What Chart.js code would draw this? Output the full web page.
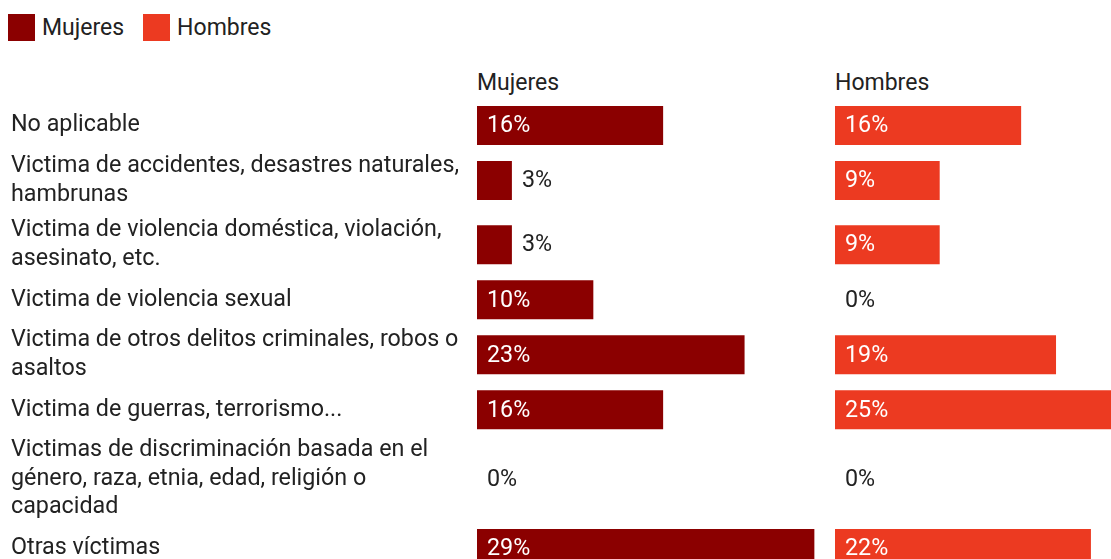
<!DOCTYPE html>
<html lang="es">
<head>
<meta charset="utf-8">
<script src="https://cdn.jsdelivr.net/npm/chart.js@4"></script>
<style>
    html, body { margin: 0; padding: 0; width: 1111px; height: 559px; overflow: hidden; background: #fff; }
    body { position: relative; font-family: Roboto, sans-serif; color: #222; }
    .legend { position: absolute; left: 8px; top: 14px; display: flex; align-items: center; font-size: 23px; line-height: 23px; }
    .legend span.box { width: 27px; height: 27px; display: inline-block; margin-right: 7px; }
    .legend span.item { display: flex; align-items: center; margin-right: 19px; }
    .header { position: absolute; top: 71px; font-size: 23px; line-height: 23px; }
    canvas { position: absolute; top: 0; }
</style>
</head>
<body>
<div class="legend">
    <span class="item"><span class="box" style="background:#8b0000"></span>Mujeres</span>
    <span class="item"><span class="box" style="background:#ec3a21"></span>Hombres</span>
</div>
<div class="header" style="left:477px">Mujeres</div>
<div class="header" style="left:835px">Hombres</div>
<canvas id="chartMujeres"></canvas>
<canvas id="chartHombres"></canvas>

<script>
// categorías (cada línea del texto en su propio elemento)
const categories = [
    ["No aplicable"],
    ["Victima de accidentes, desastres naturales,", "hambrunas"],
    ["Victima de violencia doméstica, violación,", "asesinato, etc."],
    ["Victima de violencia sexual"],
    ["Victima de otros delitos criminales, robos o", "asaltos"],
    ["Victima de guerras, terrorismo..."],
    ["Victimas de discriminación basada en el", "género, raza, etnia, edad, religión o", "capacidad"],
    ["Otras víctimas"]
];
const mujeres = [16, 3, 3, 10, 23, 16, 0, 29];
const hombres = [16, 9, 9, 0, 19, 25, 0, 22];

document.addEventListener("DOMContentLoaded", function () {
    const FONT = "Roboto";
    const FONT_SIZE = 23.3;
    const TEXT = "#222";
    const BAR_H = 39;
    const LINE_H = 28.5;
    const GAP = 7;
    const X_MAX = 30;
    const PX_PER_UNIT = 11.62;
    const AREA_TOP = 106;
    const LABEL_W = 477;

    // altura de cada fila: la barra o el texto, lo que sea mayor
    let rowCenters = [];
    let pos = 0;
    categories.forEach((lines) => {
        const h = Math.max(BAR_H, lines.length * LINE_H);
        rowCenters.push(pos + h / 2);
        pos += h + GAP;
    });
    const totalH = pos - GAP;

    const areaW = Math.round(X_MAX * PX_PER_UNIT);
    const canvasH = Math.ceil(AREA_TOP + totalH);

    // etiquetas de valor dentro o fuera de la barra
    const valueLabels = {
        id: "valueLabels",
        afterDatasetsDraw(chart) {
            const ctx = chart.ctx;
            const ds = chart.data.datasets[0];
            chart.getDatasetMeta(0).data.forEach((bar, i) => {
                const text = ds.data[i].x + "%";
                ctx.save();
                ctx.font = FONT_SIZE + "px " + FONT;
                ctx.textBaseline = "middle";
                const w = ctx.measureText(text).width;
                if (bar.x - bar.base >= w + 20) {
                    ctx.fillStyle = "#fff";
                    ctx.fillText(text, bar.base + 10, bar.y + 1);
                } else {
                    ctx.fillStyle = TEXT;
                    ctx.fillText(text, bar.x + 10, bar.y + 1);
                }
                ctx.restore();
            });
        }
    };

    function makeChart(id, values, color, withLabels) {
        const canvas = document.getElementById(id);
        const width = withLabels ? LABEL_W + areaW : areaW;
        canvas.style.left = (withLabels ? 0 : 835) + "px";
        canvas.width = width;
        canvas.height = canvasH;
        canvas.style.width = width + "px";
        canvas.style.height = canvasH + "px";

        return new Chart(canvas.getContext("2d"), {
            type: "bar",
            data: {
                datasets: [{
                    data: values.map((v, i) => ({ x: v, y: rowCenters[i] })),
                    backgroundColor: color,
                    barThickness: BAR_H,
                    borderWidth: 0,
                    inflateAmount: 0
                }]
            },
            options: {
                indexAxis: "y",
                responsive: false,
                animation: false,
                layout: { padding: { top: AREA_TOP, left: withLabels ? 11 : 0, right: 0, bottom: 0 } },
                plugins: { legend: { display: false }, tooltip: { enabled: false } },
                scales: {
                    x: {
                        type: "linear",
                        min: 0,
                        max: X_MAX,
                        display: false
                    },
                    y: {
                        type: "linear",
                        min: 0,
                        max: totalH,
                        offset: false,
                        reverse: true,
                        display: withLabels,
                        grid: { display: false, offset: false },
                        border: { display: false },
                        afterBuildTicks: (scale) => {
                            scale.ticks = rowCenters.map((c) => ({ value: c }));
                        },
                        afterFit: (scale) => {
                            if (withLabels) scale.width = LABEL_W - 11;
                            scale.paddingTop = 0;
                            scale.paddingBottom = 0;
                        },
                        ticks: {
                            autoSkip: false,
                            crossAlign: "far",
                            color: TEXT,
                            font: { family: FONT, size: FONT_SIZE, lineHeight: LINE_H / FONT_SIZE },
                            callback: function (value, index) {
                                return categories[index];
                            }
                        }
                    }
                }
            },
            plugins: [valueLabels]
        });
    }

    makeChart("chartMujeres", mujeres, "#8b0000", true);
    makeChart("chartHombres", hombres, "#ec3a21", false);
});
</script>
</body>
</html>
